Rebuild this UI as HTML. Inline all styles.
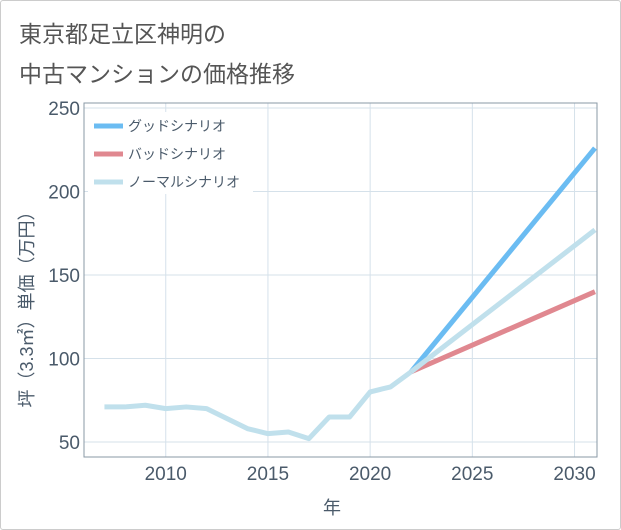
<!DOCTYPE html>
<html><head><meta charset="utf-8"><style>
body{margin:0;background:#fff;}
#wrap{position:relative;width:619px;height:528px;border:1px solid #ccc;border-radius:3px;background:#fff;overflow:hidden;}
.t{position:absolute;left:18px;font-family:"Liberation Sans","Noto Sans CJK JP",sans-serif;font-size:23px;color:#555;}
svg text{font-family:"Liberation Sans","Noto Sans CJK JP",sans-serif;}
</style></head><body>
<div id="wrap">
<div class="t" style="top:14px">東京都足立区神明の</div>
<div class="t" style="top:54px">中古マンションの価格推移</div>
<svg id="c" width="621" height="530" style="position:absolute;left:-1px;top:-1px"></svg>
</div>
<script>
const years=[2007,2008,2009,2010,2011,2012,2013,2014,2015,2016,2017,2018,2019,2020,2021,2022];
const hist=[71,71,72,70,71,70,64,58,55,56,52,65,65,80,83,92];
const fYears=[2022,2031];
const good=[92,226];
const bad=[92,140];
const normal=[92,177];
const yTicks=[50,100,150,200,250];
const xTicks=[2010,2015,2020,2025,2030];
const L=84,R=597,T=103,B=457;
const x=v=>L+(v-2006)*(R-L)/(2031.1-2006);
const y=v=>442-(v-50)*(442-108)/200;
const s=document.getElementById('c');const NS='http://www.w3.org/2000/svg';
function mk(t,a,p){const e=document.createElementNS(NS,t);for(const k in a)e.setAttribute(k,a[k]);(p||s).appendChild(e);return e;}
xTicks.forEach(v=>{const l=mk('line',{x1:x(v),x2:x(v),y1:T,y2:B,stroke:'#d5e1ea','stroke-width':1});


const t=mk('text',{x:x(v),y:480,'text-anchor':'middle','font-size':19,fill:'#4a5a6a'});t.textContent=v;

});
yTicks.forEach(v=>{const l=mk('line',{x1:L,x2:R,y1:y(v),y2:y(v),stroke:'#d5e1ea','stroke-width':1});


const t=mk('text',{x:80,y:y(v)+7,'text-anchor':'end','font-size':19,fill:'#4a5a6a'});t.textContent=v;

});
const fr=mk('rect',{x:L,y:T,width:R-L,height:B-T,fill:'none',stroke:'#8a98a6','stroke-width':1});


function line(xs,ys,c,n){const p=mk('polyline',{points:xs.map((v,i)=>x(v)+','+y(ys[i])).join(' '),fill:'none',stroke:c,'stroke-width':5,'stroke-linejoin':'round'});

}
line(fYears,good,'#6bbcf2','good-scenario-line');
line(fYears,bad,'#e08890','bad-scenario-line');
line(fYears,normal,'#c0e0ec','normal-scenario-line');
line(years,hist,'#c0e0ec','historical-line');
const lg=mk('rect',{x:88,y:112,width:165,height:82,fill:'#fff'});


[['グッドシナリオ','#6bbcf2',126],['バッドシナリオ','#e08890',154],['ノーマルシナリオ','#c0e0ec',182]].forEach((d,i)=>{
const l=mk('line',{x1:94,x2:123,y1:d[2],y2:d[2],stroke:d[1],'stroke-width':5});


const t=mk('text',{x:128,y:d[2]+5,'font-size':14,fill:'#4a5a6a'});t.textContent=d[0];

});
const xt=mk('text',{x:332,y:514,'text-anchor':'middle','font-size':18,fill:'#4a5a6a'});xt.textContent='年';


const yt=mk('text',{x:0,y:0,'text-anchor':'middle','font-size':18,fill:'#4a5a6a',transform:'translate(33,305) rotate(-90)'});yt.textContent='坪（3.3㎡）単価（万円）';


</script>
</body></html>
